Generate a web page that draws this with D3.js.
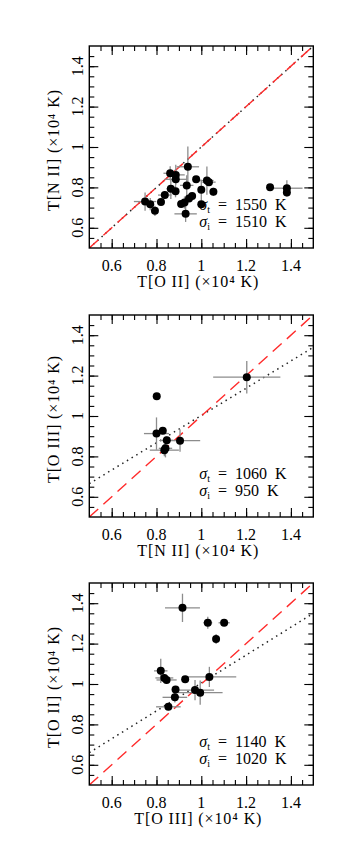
<!DOCTYPE html>
<html>
<head>
<meta charset="utf-8">
<script src="https://cdn.jsdelivr.net/npm/d3@7"></script>
<style>
  body { margin: 0; background: #fff; }
  text { font-family: "Liberation Serif", "DejaVu Serif", serif; fill: #000; }
</style>
</head>
<body>
<svg id="chart" width="360" height="856"></svg>
<script>
// --- Data (units of 10^4 K) ---
// panel 1: T[N II] vs T[O II]
const p1X    = [0.749, 0.772, 0.793, 0.820, 0.837, 0.864, 0.861, 0.885, 0.886, 0.886, 0.910, 0.925, 0.930, 0.935, 0.940, 0.945, 0.959, 0.977, 1.000, 1.000, 1.025, 1.034, 1.054, 1.307, 1.382, 1.382];
const p1Y    = [0.730, 0.717, 0.684, 0.728, 0.762, 0.793, 0.870, 0.781, 0.862, 0.840, 0.718, 0.725, 0.669, 0.810, 0.902, 0.745, 0.757, 0.840, 0.788, 0.717, 0.834, 0.826, 0.778, 0.801, 0.796, 0.775];
const p1XErr = [0.05, 0, 0, 0.015, 0.03, 0.02, 0.03, 0, 0.04, 0.05, 0.015, 0, 0.05, 0.03, 0.05, 0, 0, 0, 0, 0, 0.03, 0.03, 0, 0, 0.07, 0];
const p1YErr = [0.045, 0.03, 0.025, 0.01, 0.02, 0.05, 0.035, 0.03, 0.05, 0.02, 0, 0.03, 0.04, 0.05, 0.1, 0, 0, 0, 0.05, 0.02, 0.07, 0, 0.02, 0, 0.04, 0.02];

// panel 2: T[O III] vs T[N II]
const p2X    = [0.801, 0.800, 0.828, 0.846, 0.905, 0.835, 0.840, 1.203];
const p2Y    = [1.098, 0.913, 0.927, 0.880, 0.878, 0.831, 0.840, 1.192];
const p2XErr = [0.005, 0.056, 0.01, 0.03, 0.09, 0.065, 0.03, 0.15];
const p2YErr = [0.01, 0.08, 0.01, 0.02, 0.055, 0.03, 0.045, 0.08];

// panel 3: T[O II] vs T[O III]
const p3X    = [0.916, 1.029, 1.102, 1.066, 0.819, 0.835, 0.845, 0.928, 1.036, 0.885, 0.882, 0.853, 0.972, 0.995];
const p3Y    = [1.377, 1.303, 1.303, 1.223, 1.065, 1.030, 1.020, 1.024, 1.035, 0.973, 0.934, 0.887, 0.970, 0.957];
const p3XErr = [0.078, 0.02, 0.025, 0.005, 0.03, 0.04, 0.045, 0, 0.12, 0, 0.055, 0.055, 0.085, 0.1];
const p3YErr = [0.07, 0.03, 0.01, 0.025, 0.06, 0.02, 0.02, 0, 0.05, 0, 0.025, 0.01, 0.05, 0.06];

// fitted relations (dotted) and the 1:1 line (dashed)
const fit1 = [[0.5, 0.5], [1.5, 1.5]];
const fit2 = [[0.5, 0.665], [1.5, 1.34]];
const fit3 = [[0.5, 0.66], [1.5, 1.35]];
const oneToOne = [[0.5, 0.5], [1.5, 1.5]];

const sigmaT = [1550, 1060, 1140];
const sigmaI = [1510, 950, 1020];

const xTitles = ['T[O II] (×10⁴ K)', 'T[N II] (×10⁴ K)', 'T[O III] (×10⁴ K)'];
const yTitles = ['T[N II] (×10⁴ K)', 'T[O III] (×10⁴ K)', 'T[O II] (×10⁴ K)'];

const domain = [0.5, 1.5];
const majorTicks = [0.6, 0.8, 1.0, 1.2, 1.4];
const tickLabels = ['0.6', '0.8', '1', '1.2', '1.4'];
const minorTicks = d3.range(0.55, 1.5, 0.05).map(v => +v.toFixed(2));

// --- Layout ---
const left = 89.3, width = 224, height = 202;
const tops = [46, 315, 583];

const svg = d3.select('#chart');

const x = d3.scaleLinear().domain(domain).range([0, width]);
const y = d3.scaleLinear().domain(domain).range([height, 0]);

const panels = [
  { xs: p1X, ys: p1Y, xe: p1XErr, ye: p1YErr, fit: fit1 },
  { xs: p2X, ys: p2Y, xe: p2XErr, ye: p2YErr, fit: fit2 },
  { xs: p3X, ys: p3Y, xe: p3XErr, ye: p3YErr, fit: fit3 }
];

panels.forEach((p, i) => {
  const g = svg.append('g').attr('transform', `translate(${left},${tops[i]})`);

  svg.append('clipPath').attr('id', `clip${i}`)
    .append('rect').attr('width', width).attr('height', height);

  // --- Ticks on all four sides, pointing inward ---
  const addAxis = (axisFn, scale, tx, ty) => {
    const major = g.append('g').attr('transform', `translate(${tx},${ty})`)
      .call(axisFn(scale).tickValues(majorTicks).tickSize(-9).tickFormat(''));
    const minor = g.append('g').attr('transform', `translate(${tx},${ty})`)
      .call(axisFn(scale).tickValues(minorTicks).tickSize(-5).tickFormat(''));
    [major, minor].forEach(a => {
      a.select('.domain').remove();
      a.selectAll('line').attr('stroke', '#000').attr('stroke-width', 1.1);
    });
  };
  addAxis(d3.axisBottom, x, 0, height);
  addAxis(d3.axisTop, x, 0, 0);
  addAxis(d3.axisLeft, y, 0, 0);
  addAxis(d3.axisRight, y, width, 0);

  // tick labels
  g.append('g').selectAll('text')
    .data(majorTicks)
    .enter().append('text')
    .attr('x', d => x(d))
    .attr('y', height + 22.5)
    .attr('text-anchor', 'middle')
    .attr('font-size', '16px')
    .text((d, k) => tickLabels[k]);

  g.append('g').selectAll('text')
    .data(majorTicks)
    .enter().append('text')
    .attr('transform', d => `translate(-6,${y(d)}) rotate(-90)`)
    .attr('text-anchor', 'middle')
    .attr('font-size', '16px')
    .text((d, k) => tickLabels[k]);

  // axis titles
  g.append('text')
    .attr('x', width / 2 - 3)
    .attr('y', height + 38.5)
    .attr('text-anchor', 'middle')
    .attr('font-size', '16px')
    .attr('letter-spacing', '0.9px')
    .text(xTitles[i]);

  g.append('text')
    .attr('transform', `translate(-30,${height / 2 + 3}) rotate(-90)`)
    .attr('text-anchor', 'middle')
    .attr('font-size', '16px')
    .attr('letter-spacing', '0.9px')
    .text(yTitles[i]);

  // --- Lines ---
  const line = d3.line().x(d => x(d[0])).y(d => y(d[1]));
  const lines = g.append('g').attr('clip-path', `url(#clip${i})`);
  lines.append('path')
    .attr('d', line(p.fit))
    .attr('fill', 'none')
    .attr('stroke', '#222')
    .attr('stroke-width', 1.5)
    .attr('stroke-dasharray', '1.5,4');
  lines.append('path')
    .attr('d', line(oneToOne))
    .attr('fill', 'none')
    .attr('stroke', '#ff2b2b')
    .attr('stroke-width', 1.4)
    .attr('stroke-dasharray', '12,7');

  // --- Error bars and points ---
  const pts = p.xs.map((v, k) => ({ x: v, y: p.ys[k], xe: p.xe[k], ye: p.ye[k] }));
  const err = g.append('g').attr('stroke', '#8c8c8c').attr('stroke-width', 1.3);
  err.selectAll('.xe').data(pts.filter(d => d.xe > 0))
    .enter().append('line')
    .attr('x1', d => x(d.x - d.xe)).attr('x2', d => x(d.x + d.xe))
    .attr('y1', d => y(d.y)).attr('y2', d => y(d.y));
  err.selectAll('.ye').data(pts.filter(d => d.ye > 0))
    .enter().append('line')
    .attr('x1', d => x(d.x)).attr('x2', d => x(d.x))
    .attr('y1', d => y(d.y - d.ye)).attr('y2', d => y(d.y + d.ye));

  g.append('g').selectAll('circle')
    .data(pts)
    .enter().append('circle')
    .attr('cx', d => x(d.x))
    .attr('cy', d => y(d.y))
    .attr('r', 4)
    .attr('fill', '#000');

  // --- Scatter labels ---
  const lab = g.append('g').attr('font-size', '16px');
  [['t', sigmaT[i], 164], ['i', sigmaI[i], 180.5]].forEach(([sub, val, yy]) => {
    const t = lab.append('text').attr('x', 110).attr('y', yy);
    t.append('tspan').attr('font-style', 'italic').text('σ');
    t.append('tspan').attr('font-size', '10px').attr('dy', 3).text(sub);
    t.append('tspan').attr('dy', -3).text(`  =  ${val}  K`).attr('xml:space', 'preserve');
  });

  // frame
  g.append('rect')
    .attr('width', width).attr('height', height)
    .attr('fill', 'none').attr('stroke', '#000').attr('stroke-width', 1.4);
});
</script>
</body>
</html>
